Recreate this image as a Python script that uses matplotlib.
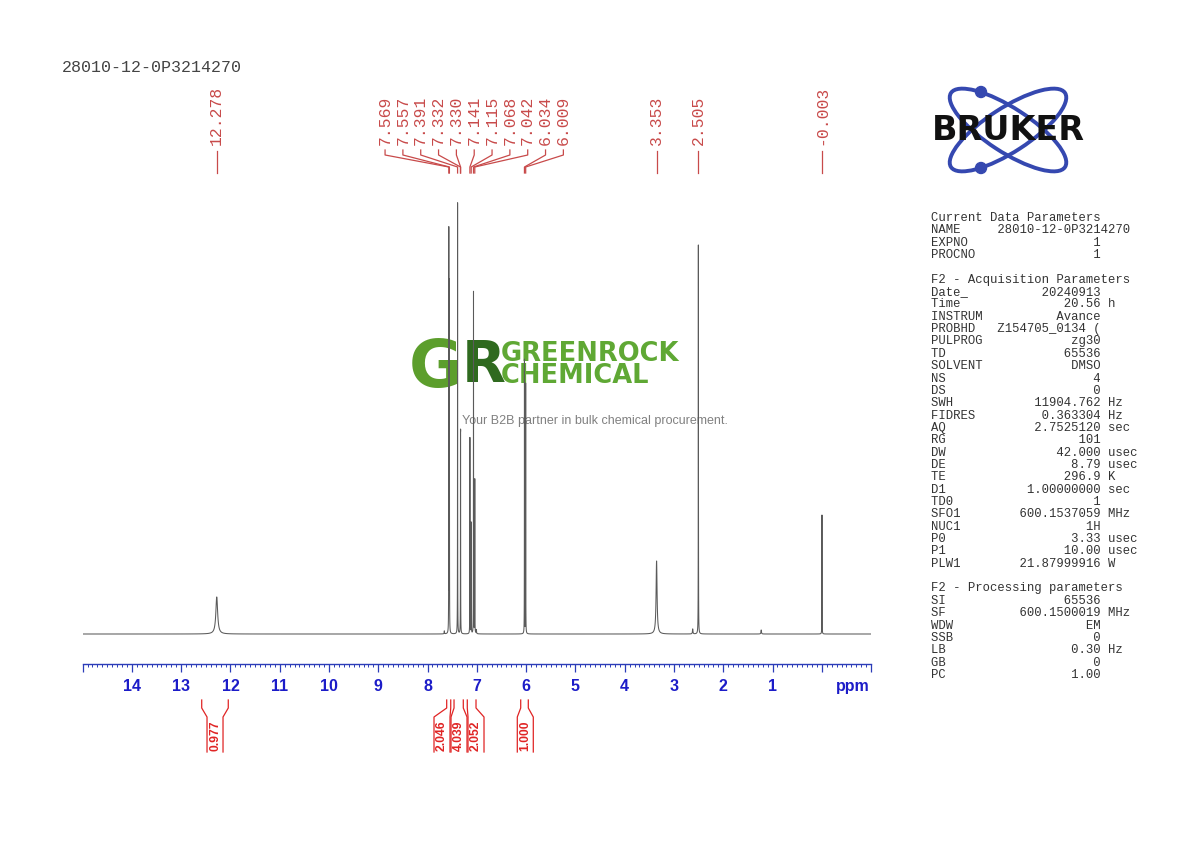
import matplotlib
matplotlib.use("Agg")
import matplotlib.pyplot as plt
import numpy as np
from matplotlib.transforms import blended_transform_factory
from matplotlib.patches import Ellipse, Circle
from matplotlib.ticker import MultipleLocator

plt.rcParams["path.simplify"] = False

# ---------------- data ----------------
sample_name = "28010-12-0P3214270"

peak_ppm = [12.278, 7.569, 7.557, 7.391, 7.332, 7.330, 7.141, 7.115, 7.068, 7.042,
            6.034, 6.009, 3.353, 2.505, -0.003]
peak_height = [37, 402, 349, 431, 146, 146, 196, 111, 342, 154,
               274, 250, 73, 389, 119]
peak_hwhm = [0.022, 0.0015, 0.0015, 0.0015, 0.0015, 0.0015, 0.0015, 0.0015, 0.0015, 0.0015,
             0.0015, 0.0015, 0.012, 0.0018, 0.0015]

minor_ppm = [7.66, 7.01, 2.62, 1.23]
minor_height = [3, 4, 5, 4]
minor_hwhm = [0.004, 0.004, 0.006, 0.006]

integ_value = [0.977, 2.046, 4.039, 2.052, 1.000]
integ_from = [12.583, 7.612, 7.463, 7.194, 6.110]
integ_to = [12.044, 7.530, 7.275, 7.017, 5.956]
integ_label_ppm = [12.313, 7.707, 7.362, 7.017, 6.017]

tick_values = list(range(-1, 16))
tick_labels = ["" if (v < 1 or v > 14) else str(v) for v in tick_values]

param_names = ["NAME", "EXPNO", "PROCNO"]
param_vals = ["28010-12-0P3214270", "1", "1"]
param_units = ["", "", ""]
acq_names = ["Date_", "Time", "INSTRUM", "PROBHD", "PULPROG", "TD", "SOLVENT", "NS", "DS",
             "SWH", "FIDRES", "AQ", "RG", "DW", "DE", "TE", "D1", "TD0", "SFO1", "NUC1",
             "P0", "P1", "PLW1"]
acq_vals = ["20240913", "20.56", "Avance", "Z154705_0134 (", "zg30", "65536", "DMSO", "4", "0",
            "11904.762", "0.363304", "2.7525120", "101", "42.000", "8.79", "296.9", "1.00000000",
            "1", "600.1537059", "1H", "3.33", "10.00", "21.87999916"]
acq_units = ["", "h", "", "", "", "", "", "", "", "Hz", "Hz", "sec", "", "usec", "usec", "K",
             "sec", "", "MHz", "", "usec", "usec", "W"]
proc_names = ["SI", "SF", "WDW", "SSB", "LB", "GB", "PC"]
proc_vals = ["65536", "600.1500019", "EM", "0", "0.30", "0", "1.00"]
proc_units = ["", "MHz", "", "", "Hz", "", ""]

# ---------------- figure ----------------
W, H = 1190, 842
fig = plt.figure(figsize=(W / 100, H / 100), dpi=100)
fig.patch.set_facecolor("white")


def fx(px):
    return px / W


def fy(py):
    return 1 - py / H


x_left, x_right = 82.6, 871.1
ax_bottom_px, ax_top_px = 664, 190
ax = fig.add_axes([fx(x_left), fy(ax_bottom_px), (x_right - x_left) / W,
                   (ax_bottom_px - ax_top_px) / H])
ax.set_xlim(15, -1)
ax.set_ylim(-30, ax_bottom_px - ax_top_px - 30)

# spectrum from peak list (Lorentzian lines)
ppm = np.linspace(15, -1, 96001)
spec = np.zeros_like(ppm)
for p, h, w in zip(peak_ppm + minor_ppm, peak_height + minor_height, peak_hwhm + minor_hwhm):
    spec += h / (1 + ((ppm - p) / w) ** 2)
ax.plot(ppm, spec, color="#5a5a5a", lw=0.75, zorder=3)

# axis styling
axis_blue = "#2b3cb8"
for s in ["top", "left", "right"]:
    ax.spines[s].set_visible(False)
ax.spines["bottom"].set_color(axis_blue)
ax.spines["bottom"].set_linewidth(1.0)
ax.set_yticks([])
ax.set_xticks(tick_values)
ax.set_xticklabels(tick_labels)
ax.xaxis.set_minor_locator(MultipleLocator(0.1))
ax.tick_params(axis="x", which="major", direction="out", length=6, width=0.9,
               color=axis_blue, labelcolor="#1c1cc8", pad=5)
ax.tick_params(axis="x", which="minor", direction="out", length=2.5, width=0.7,
               color=axis_blue)
for lab in ax.get_xticklabels():
    lab.set_fontfamily("Liberation Sans")
    lab.set_fontweight("bold")
    lab.set_fontsize(11.5)
fig.text(fx(853), fy(686), "ppm", family="Liberation Sans", fontweight="bold",
         fontsize=11.5, color="#1c1cc8", ha="center", va="center")

trans = blended_transform_factory(ax.transData, fig.transFigure)

# ---------------- peak labels ----------------
red_lab = "#c84a4a"
cluster = [i for i, p in enumerate(peak_ppm) if 5.5 < p < 8.0]
cl_mean = np.mean([peak_ppm[i] for i in cluster])
step = 17.83 / 49.28
n = len(cluster)
label_x = list(peak_ppm)
for k, i in enumerate(cluster):
    label_x[i] = cl_mean + (n - 1) / 2 * step - k * step

for i, p in enumerate(peak_ppm):
    lx = label_x[i]
    ax.text(lx, fy(145), f"{p:.3f}", rotation=90, ha="center", va="bottom",
            transform=trans, family="Liberation Mono", fontsize=11.8, color=red_lab)
    if i in cluster:
        xs = [lx, lx, p, p]
        ys = [fy(150), fy(155), fy(167), fy(173)]
    else:
        xs = [p, p]
        ys = [fy(151), fy(173)]
    ax.plot(xs, ys, transform=trans, color=red_lab, lw=0.9, clip_on=False)

# ---------------- integrals ----------------
red_int = "#e02424"
hw = 8.0 / 49.28
for v, a, b, c in zip(integ_value, integ_from, integ_to, integ_label_ppm):
    ax.plot([a, a, c + hw, c + hw], [fy(700), fy(708), fy(717), fy(752)],
            transform=trans, color=red_int, lw=0.9, clip_on=False)
    ax.plot([b, b, c - hw, c - hw], [fy(700), fy(708), fy(717), fy(752)],
            transform=trans, color=red_int, lw=0.9, clip_on=False)
    ax.text(c, fy(736), f"{v:.3f}", rotation=90, ha="center", va="center",
            transform=trans, family="Liberation Sans", fontweight="bold",
            fontsize=8.7, color=red_int)

# ---------------- sample name ----------------
fig.text(fx(62), fy(68), sample_name, family="Liberation Mono", fontsize=12,
         color="#444444", ha="left", va="center")

# ---------------- parameter panel ----------------
lines = ["Current Data Parameters"]
for nm, vl, un in zip(param_names, param_vals, param_units):
    lines.append(f"{nm:<9}{vl:>14} {un}".rstrip())
lines.append("")
lines.append("F2 - Acquisition Parameters")
for nm, vl, un in zip(acq_names, acq_vals, acq_units):
    lines.append(f"{nm:<9}{vl:>14} {un}".rstrip())
lines.append("")
lines.append("F2 - Processing parameters")
for nm, vl, un in zip(proc_names, proc_vals, proc_units):
    lines.append(f"{nm:<9}{vl:>14} {un}".rstrip())
for i, ln in enumerate(lines):
    if ln:
        fig.text(fx(931), fy(218 + 12.35 * i), ln, family="Liberation Mono",
                 fontsize=8.8, color="#333333", ha="left", va="center")

# ---------------- watermark logo ----------------
ax.text(fx(436), fy(369), "G", transform=fig.transFigure, family="DejaVu Sans",
        fontweight="bold", fontsize=47, color="#5c9e2c", ha="center", va="center", zorder=1)
ax.text(fx(484), fy(366), "R", transform=fig.transFigure, family="DejaVu Sans",
        fontweight="bold", fontsize=41, color="#2f6a1f", ha="center", va="center", zorder=1)
ax.text(fx(501), fy(365), "GREENROCK\nCHEMICAL", transform=fig.transFigure,
        family="DejaVu Sans", fontweight="bold", fontsize=18.5, linespacing=0.82,
        color="#5fa834", ha="left", va="center", zorder=1)
ax.text(fx(595), fy(421), "Your B2B partner in bulk chemical procurement.",
        transform=fig.transFigure, family="Liberation Sans", fontsize=9,
        color="#808080", ha="center", va="center", zorder=1)

# ---------------- Bruker logo ----------------
lax = fig.add_axes([fx(910), fy(180), 200 / W, 100 / H])
lax.set_xlim(910, 1110)
lax.set_ylim(180, 80)
lax.axis("off")
orbit = "#3548b0"
for ang in (33, -33):
    lax.add_patch(Ellipse((1008, 130), 136, 44, angle=ang, fill=False,
                          edgecolor=orbit, lw=2.8))
for cx, cy in [(981, 92), (981, 168)]:
    lax.add_patch(Circle((cx, cy), 5.5, color=orbit))
lax.text(1008, 130, "BRUKER", family="DejaVu Sans", fontweight="bold", fontsize=24,
         color="#111111", ha="center", va="center", zorder=5)

fig.savefig("out.png", dpi=100, facecolor="white")
